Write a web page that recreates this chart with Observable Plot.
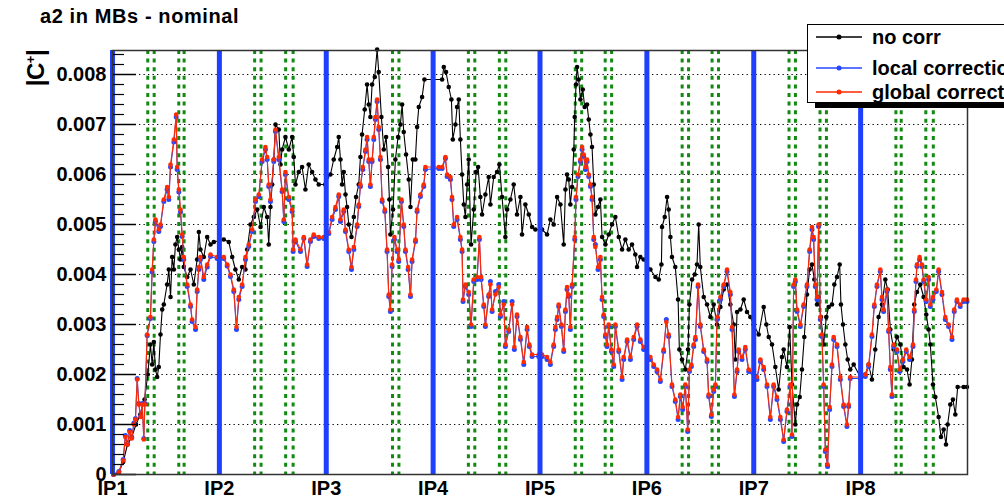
<!DOCTYPE html>
<html><head><meta charset="utf-8">
<script src="https://cdn.jsdelivr.net/npm/d3@7"></script>
<script src="https://cdn.jsdelivr.net/npm/@observablehq/plot@0.6"></script>
<style>
html,body{margin:0;padding:0;background:#fff;overflow:hidden}
#wrap{position:relative;width:1004px;height:500px;overflow:hidden;font-family:"Liberation Sans",Arial,Helvetica,sans-serif;font-weight:bold;color:#000}
#wrap svg.plot{position:absolute;left:0;top:0}
#title{position:absolute;left:40px;top:6px;font-size:20px;line-height:1;letter-spacing:0.6px;white-space:nowrap}
#ylab{position:absolute;left:36px;top:68px;transform:translate(-50%,-50%) rotate(-90deg);font-size:24px;line-height:1;white-space:nowrap;letter-spacing:-0.5px}
#ylab sup{font-size:13px;vertical-align:9px}
#legend{position:absolute;left:807px;top:24px;width:240px;height:77px;border:1px solid #000;background:#fff;box-shadow:8px 5px 0 #000}
#legend .row{position:absolute;left:0;height:24px;display:flex;align-items:center;white-space:nowrap;font-size:20px}
#legend .row svg{margin-left:8px;margin-right:10px}
</style></head>
<body><div id="wrap"></div>
<script>
// ---- data: position along the ring in units of IP spacing (IP1 = 0), |C+| in units of 1e-3 ----
const ipPos = [0, 1, 2, 3, 4, 5, 6, 7];
const ipLabels = ["IP1", "IP2", "IP3", "IP4", "IP5", "IP6", "IP7", "IP8"];
const greenLines = [0.33, 0.39, 0.62, 0.67, 1.33, 1.39, 1.62, 1.69, 2.62, 2.68, 3.33, 3.39, 3.62, 3.68,
  4.33, 4.39, 4.61, 4.67, 5.33, 5.39, 5.61, 5.67, 6.33, 6.39, 6.62, 6.68, 7.33, 7.38, 7.61, 7.68];
const yMajor = [0, 0.001, 0.002, 0.003, 0.004, 0.005, 0.006, 0.007, 0.008];
const yMinor = [0.0002, 0.0004, 0.0006, 0.0008, 0.0012, 0.0014, 0.0016, 0.0018, 0.0022, 0.0024, 0.0026, 0.0028,
  0.0032, 0.0034, 0.0036, 0.0038, 0.0042, 0.0044, 0.0046, 0.0048, 0.0052, 0.0054, 0.0056, 0.0058,
  0.0062, 0.0064, 0.0066, 0.0068, 0.0072, 0.0074, 0.0076, 0.0078, 0.0082, 0.0084];
const seriesNames = ["no corr", "local correction", "global correction"];
const seriesColors = ["#000000", "#2646ff", "#ff2a00"];

const noCorrPts = [
[0.01,0.0],[0.06,0.05],[0.10,0.25],[0.14,0.6],[0.18,0.75],[0.22,1.0],[0.26,1.2],[0.30,1.5],[0.33,2.0],[0.355,2.6],
[0.371,2.2],[0.387,2.65],[0.402,2.1],[0.418,1.95],[0.433,2.15],[0.449,2.8],[0.465,3.3],[0.48,3.4],[0.511,3.8],[0.527,4.1],
[0.543,3.55],[0.558,4.35],[0.574,4.1],[0.589,4.6],[0.605,4.75],[0.621,4.5],[0.636,4.3],[0.652,4.55],[0.667,4.15],[0.699,3.95],
[0.73,4.1],[0.761,3.8],[0.792,4.3],[0.808,4.85],[0.823,4.5],[0.854,4.35],[0.886,4.75],[0.917,4.6],[0.948,4.65],[1.041,4.7],
[1.088,4.65],[1.12,4.35],[1.15,4.1],[1.182,3.9],[1.213,4.15],[1.244,4.1],[1.26,4.5],[1.291,5.0],[1.322,5.15],[1.354,5.3],
[1.385,4.95],[1.416,5.35],[1.447,5.15],[1.462,4.6],[1.478,5.35],[1.494,5.8],[1.509,6.3],[1.525,7.0],[1.556,6.9],[1.572,6.2],
[1.587,6.5],[1.618,6.75],[1.65,6.5],[1.681,6.75],[1.696,6.35],[1.712,5.8],[1.743,6.05],[1.774,6.15],[1.805,5.7],[1.836,6.2],
[1.868,6.05],[1.899,5.9],[1.93,5.8],[1.99,5.8],
[2.008,5.95],[2.039,6.0],[2.07,6.3],[2.102,6.55],[2.117,6.75],[2.133,6.3],[2.148,5.8],[2.164,6.05],[2.18,5.6],[2.195,5.35],
[2.211,5.0],[2.236,4.75],[2.258,5.15],[2.279,5.55],[2.304,5.8],[2.32,6.35],[2.335,6.8],[2.36,7.3],[2.382,7.8],[2.398,7.4],
[2.413,7.15],[2.429,7.8],[2.454,7.95],[2.476,8.5],[2.491,8.05],[2.516,7.15],[2.538,6.5],[2.56,6.75],[2.579,6.15],[2.591,5.5],
[2.6,4.8],[2.625,5.3],[2.647,6.3],[2.672,6.75],[2.694,7.0],[2.71,7.4],[2.725,6.85],[2.747,6.4],[2.772,5.9],[2.788,5.35],
[2.81,6.3],[2.834,6.3],[2.85,6.95],[2.866,7.35],[2.897,7.55],[2.919,7.9],[3.084,7.9],[3.1,8.15],[3.121,8.05],[3.146,7.75],
[3.171,7.5],[3.184,6.7],[3.209,7.0],[3.224,7.35],[3.24,7.5],[3.255,6.7],[3.271,6.0],[3.287,5.4],[3.302,5.15],[3.318,5.8],
[3.333,6.3],[3.355,4.6],[3.38,5.3],[3.402,6.05],[3.421,6.15],[3.442,5.55],[3.458,5.2],[3.489,5.6],[3.52,5.95],[3.536,5.4],
[3.567,5.95],[3.598,6.05],[3.62,6.2],[3.645,5.55],[3.676,4.75],[3.692,5.3],[3.723,5.5],[3.754,5.8],[3.785,5.2],[3.817,5.55],
[3.832,4.8],[3.863,5.4],[3.895,5.2],[3.926,4.95],[3.957,4.9],
[4.019,4.9],[4.066,4.8],[4.097,5.1],[4.128,5.0],[4.16,5.55],[4.191,5.4],[4.222,4.6],[4.238,5.7],[4.253,6.0],[4.269,5.9],
[4.284,5.4],[4.3,5.75],[4.316,6.5],[4.325,7.15],[4.337,7.8],[4.347,8.15],[4.362,7.9],[4.378,7.5],[4.4,7.7],[4.418,7.35],
[4.44,7.4],[4.456,7.1],[4.472,6.8],[4.487,6.55],[4.503,5.8],[4.518,5.2],[4.543,5.35],[4.565,5.5],[4.581,4.75],[4.612,4.6],
[4.643,4.8],[4.674,5.0],[4.705,5.15],[4.737,4.75],[4.768,4.5],[4.799,4.7],[4.83,4.5],[4.861,4.6],[4.892,4.4],[4.908,4.15],
[4.939,4.35],[4.97,4.3],[5.033,4.1],[5.08,3.95],[5.111,3.9],[5.136,4.2],[5.142,4.95],[5.167,5.15],[5.189,5.55],[5.204,5.3],
[5.22,4.75],[5.235,4.35],[5.266,4.15],[5.292,3.5],[5.304,2.5],[5.329,2.3],[5.36,2.1],[5.385,2.5],[5.398,3.4],[5.423,3.9],
[5.448,4.0],[5.469,4.2],[5.485,5.0],[5.5,4.15],[5.532,3.55],[5.563,3.4],[5.594,3.15],[5.625,3.4],[5.656,3.0],[5.688,3.35],
[5.719,3.7],[5.75,3.8],[5.781,3.4],[5.813,3.0],[5.828,2.3],[5.844,3.25],[5.875,3.3],[5.906,3.5],[5.937,3.25],[5.968,3.15],
[5.999,3.0],[6.046,2.8],[6.093,3.35],[6.118,3.0],[6.14,2.75],[6.171,2.6],[6.202,2.15],[6.233,1.7],[6.264,2.35],[6.28,2.5],
[6.311,2.15],[6.336,2.95],[6.358,1.8],[6.389,1.0],[6.405,1.4],[6.43,1.55],[6.451,2.1],[6.473,2.75],[6.498,3.6],[6.523,4.1],
[6.545,4.2],[6.567,3.9],[6.592,3.4],[6.607,3.55],[6.629,3.15],[6.654,2.6],[6.679,3.15],[6.701,3.35],[6.732,3.4],[6.754,3.8],
[6.779,3.95],[6.804,4.2],[6.816,3.4],[6.835,3.0],[6.857,2.6],[6.879,2.3],[6.903,2.1],[6.935,2.2],[6.997,1.95],[7.044,2.0],
[7.075,2.2],[7.106,1.9],[7.137,2.5],[7.168,3.15],[7.2,3.4],[7.231,3.9],[7.253,3.7],[7.278,2.9],[7.309,2.5],[7.34,2.75],
[7.371,2.6],[7.402,2.15],[7.434,2.1],[7.458,1.8],[7.48,2.3],[7.502,3.4],[7.527,3.65],[7.558,3.8],[7.59,3.55],[7.614,3.2],
[7.636,2.9],[7.652,2.6],[7.677,1.8],[7.699,1.55],[7.73,1.15],[7.752,0.75],[7.777,0.9],[7.799,0.6],[7.814,1.0],[7.839,1.4],
[7.864,1.5],[7.886,1.2],[7.908,1.75],[7.964,1.75],[7.995,1.75]
];

const globalPts = [
[0.01,0.0],[0.06,0.05],[0.10,0.28],[0.12,0.75],[0.14,0.6],[0.16,0.85],[0.18,0.72],[0.20,1.0],[0.215,1.1],[0.231,1.9],
[0.246,1.4],[0.262,1.15],[0.278,1.4],[0.293,0.7],[0.303,1.4],[0.324,2.8],[0.355,3.15],[0.371,4.1],[0.387,4.7],[0.402,5.1],
[0.433,4.9],[0.449,5.0],[0.48,5.5],[0.511,5.75],[0.527,5.55],[0.543,6.2],[0.574,6.7],[0.596,7.2],[0.605,6.15],[0.621,5.7],
[0.636,5.3],[0.652,4.8],[0.667,4.35],[0.699,3.8],[0.73,3.4],[0.745,3.1],[0.777,2.95],[0.792,3.7],[0.808,4.15],[0.823,4.35],
[0.854,3.95],[0.886,4.2],[0.917,4.4],[0.979,4.35],[1.041,4.35],[1.073,4.2],[1.104,4.0],[1.135,3.7],[1.16,2.95],[1.182,3.55],
[1.213,3.8],[1.244,4.35],[1.275,4.6],[1.307,4.9],[1.338,5.5],[1.369,5.6],[1.4,6.3],[1.431,6.55],[1.447,6.35],[1.462,5.8],
[1.478,5.5],[1.509,6.3],[1.525,6.9],[1.556,6.35],[1.587,5.7],[1.603,5.1],[1.618,6.05],[1.65,5.55],[1.681,5.3],[1.69,4.5],
[1.712,4.7],[1.759,4.5],[1.79,4.75],[1.821,4.2],[1.852,4.7],[1.883,4.8],[1.93,4.75],[1.977,4.75],
[2.024,4.85],[2.055,5.15],[2.086,5.35],[2.117,5.6],[2.133,5.1],[2.164,5.3],[2.18,4.9],[2.211,4.5],[2.236,4.15],[2.258,4.55],
[2.289,5.0],[2.304,5.4],[2.32,5.8],[2.342,6.15],[2.367,6.5],[2.382,6.75],[2.398,6.3],[2.413,5.8],[2.429,6.3],[2.445,6.75],
[2.46,7.15],[2.476,7.5],[2.491,6.95],[2.507,6.35],[2.523,5.5],[2.548,5.3],[2.569,4.5],[2.585,3.6],[2.6,3.3],[2.616,4.2],
[2.638,4.75],[2.663,4.5],[2.678,4.3],[2.703,5.5],[2.725,5.0],[2.741,4.5],[2.766,4.15],[2.788,3.6],[2.803,4.3],[2.835,4.7],
[2.85,5.3],[2.881,5.6],[2.912,5.8],[2.928,6.15],[3.053,6.15],[3.084,6.15],[3.115,6.35],[3.131,6.0],[3.162,5.95],[3.177,5.55],
[3.193,5.0],[3.224,5.15],[3.255,4.75],[3.271,4.5],[3.28,3.5],[3.302,3.8],[3.333,3.65],[3.355,3.0],[3.38,3.9],[3.411,3.95],
[3.433,4.75],[3.449,3.95],[3.474,3.4],[3.489,3.0],[3.52,3.6],[3.536,3.8],[3.552,3.3],[3.583,3.6],[3.614,3.75],[3.63,3.2],
[3.661,3.4],[3.676,2.6],[3.707,2.9],[3.739,3.4],[3.76,2.55],[3.785,3.2],[3.817,2.75],[3.848,2.25],[3.879,2.95],[3.9,2.6],
[3.926,2.4],[3.988,2.4],
[4.019,2.4],[4.066,2.35],[4.097,2.25],[4.128,2.6],[4.144,2.95],[4.16,3.15],[4.175,3.4],[4.2,3.0],[4.222,2.5],[4.238,3.3],
[4.253,3.75],[4.269,3.6],[4.284,2.95],[4.3,3.8],[4.325,4.75],[4.337,5.55],[4.356,6.0],[4.378,6.3],[4.394,6.55],[4.409,6.4],
[4.425,6.15],[4.44,6.3],[4.456,6.0],[4.472,5.8],[4.487,5.55],[4.503,4.75],[4.518,4.55],[4.543,4.15],[4.565,4.35],[4.581,3.55],
[4.596,3.2],[4.612,2.8],[4.627,2.6],[4.643,3.0],[4.668,2.5],[4.69,2.2],[4.705,3.0],[4.737,2.5],[4.768,1.95],[4.783,2.35],
[4.815,2.7],[4.846,2.35],[4.877,2.75],[4.908,3.0],[4.939,2.7],[4.97,2.55],[5.033,2.35],[5.064,2.2],[5.095,2.1],[5.126,1.9],
[5.157,2.5],[5.182,3.05],[5.204,2.8],[5.235,1.8],[5.266,1.5],[5.292,1.15],[5.313,1.6],[5.335,1.35],[5.36,1.8],[5.382,0.9],
[5.398,2.1],[5.416,2.2],[5.438,2.6],[5.454,2.75],[5.479,3.8],[5.5,3.0],[5.532,2.5],[5.563,2.3],[5.578,1.6],[5.603,1.2],
[5.625,1.7],[5.641,1.8],[5.656,3.15],[5.688,3.55],[5.719,3.8],[5.75,4.1],[5.781,3.65],[5.797,2.95],[5.819,1.6],[5.844,2.1],
[5.859,2.5],[5.89,2.35],[5.921,2.55],[5.953,2.1],
[6.03,1.95],[6.062,2.3],[6.093,2.15],[6.124,1.8],[6.155,1.15],[6.186,1.8],[6.217,1.55],[6.249,1.15],[6.28,0.7],[6.311,1.3],
[6.342,1.8],[6.358,0.8],[6.373,3.8],[6.389,3.9],[6.405,3.3],[6.436,3.0],[6.467,3.4],[6.498,3.8],[6.523,4.5],[6.545,4.95],
[6.56,4.75],[6.576,3.8],[6.592,3.55],[6.607,5.0],[6.623,3.15],[6.638,2.8],[6.654,1.8],[6.67,0.5],[6.691,0.2],[6.71,1.35],
[6.732,2.2],[6.748,2.75],[6.779,2.6],[6.81,1.95],[6.841,1.4],[6.872,1.0],[6.888,1.4],[6.903,1.95],[6.997,1.95],[7.044,2.0],
[7.075,2.2],[7.106,2.8],[7.128,3.4],[7.153,3.8],[7.184,4.1],[7.2,3.55],[7.215,3.3],[7.246,3.7],[7.262,2.9],[7.278,2.15],
[7.293,1.6],[7.309,2.6],[7.34,2.5],[7.365,2.1],[7.396,2.3],[7.427,2.5],[7.458,2.35],[7.49,2.6],[7.502,3.3],[7.518,3.9],
[7.527,4.2],[7.552,4.35],[7.574,4.2],[7.59,3.9],[7.614,3.5],[7.636,3.95],[7.652,3.4],[7.677,3.55],[7.708,3.7],[7.73,4.1],
[7.761,3.65],[7.792,3.15],[7.823,3.0],[7.855,2.75],[7.876,3.3],[7.901,3.5],[7.932,3.4],[7.964,3.5],[7.995,3.5]
];

const localPts = [
[0.01,0.0],[0.06,0.06],[0.10,0.3],[0.12,0.78],[0.14,0.62],[0.16,0.88],[0.18,0.74],[0.20,1.03],[0.215,1.12],[0.231,1.92],
[0.246,1.42],[0.262,1.17],[0.278,1.42],[0.293,0.72],[0.303,1.42],[0.324,2.78],[0.355,3.12],[0.371,4.05],[0.387,4.66],[0.402,5.06],
[0.433,4.86],[0.449,4.96],[0.48,5.46],[0.511,5.7],[0.527,5.5],[0.543,6.15],[0.574,6.65],[0.596,7.15],[0.605,6.1],[0.621,5.65],
[0.636,5.25],[0.652,4.76],[0.667,4.3],[0.699,3.76],[0.73,3.36],[0.745,3.06],[0.777,2.9],[0.792,3.66],[0.808,4.1],[0.823,4.3],
[0.854,3.9],[0.886,4.15],[0.917,4.36],[0.979,4.32],[1.041,4.32],[1.073,4.17],[1.104,3.96],[1.135,3.66],[1.16,2.9],[1.182,3.5],
[1.213,3.76],[1.244,4.3],[1.275,4.56],[1.307,4.86],[1.338,5.46],[1.369,5.56],[1.4,6.26],[1.431,6.5],[1.447,6.3],[1.462,5.76],
[1.478,5.46],[1.509,6.26],[1.525,6.86],[1.556,6.3],[1.587,5.66],[1.603,5.06],[1.618,6.0],[1.65,5.5],[1.681,5.26],[1.69,4.46],
[1.712,4.66],[1.759,4.46],[1.79,4.72],[1.821,4.16],[1.852,4.66],[1.883,4.76],[1.93,4.72],[1.977,4.72],
[2.024,4.82],[2.055,5.1],[2.086,5.3],[2.117,5.56],[2.133,5.06],[2.164,5.26],[2.18,4.86],[2.211,4.46],[2.236,4.1],[2.258,4.5],
[2.289,4.96],[2.304,5.36],[2.32,5.76],[2.342,6.1],[2.367,6.46],[2.382,6.7],[2.398,6.26],[2.413,5.76],[2.429,6.26],[2.445,6.7],
[2.46,7.1],[2.476,7.46],[2.491,6.9],[2.507,6.3],[2.523,5.46],[2.548,5.26],[2.569,4.46],[2.585,3.56],[2.6,3.26],[2.616,4.16],
[2.638,4.7],[2.663,4.46],[2.678,4.26],[2.703,5.46],[2.725,4.96],[2.741,4.46],[2.766,4.1],[2.788,3.56],[2.803,4.26],[2.835,4.66],
[2.85,5.26],[2.881,5.56],[2.912,5.76],[2.928,6.1],[3.053,6.12],[3.084,6.12],[3.115,6.32],[3.131,5.96],[3.162,5.9],[3.177,5.5],
[3.193,4.96],[3.224,5.1],[3.255,4.7],[3.271,4.46],[3.28,3.46],[3.302,3.76],[3.333,3.6],[3.355,2.96],[3.38,3.86],[3.411,3.9],
[3.433,4.7],[3.449,3.9],[3.474,3.36],[3.489,2.96],[3.52,3.56],[3.536,3.86],[3.552,3.26],[3.583,3.66],[3.614,3.8],[3.63,3.16],
[3.661,3.46],[3.676,2.56],[3.707,2.86],[3.739,3.46],[3.76,2.5],[3.785,3.16],[3.817,2.7],[3.848,2.2],[3.879,2.9],[3.9,2.56],
[3.926,2.36],[3.988,2.36],
[4.019,2.36],[4.066,2.3],[4.097,2.2],[4.128,2.56],[4.144,2.9],[4.16,3.1],[4.175,3.36],[4.2,2.96],[4.222,2.46],[4.238,3.26],
[4.253,3.7],[4.269,3.56],[4.284,2.9],[4.3,3.76],[4.325,4.7],[4.337,5.5],[4.356,5.96],[4.378,6.26],[4.394,6.5],[4.409,6.36],
[4.425,6.1],[4.44,6.26],[4.456,5.96],[4.472,5.76],[4.487,5.5],[4.503,4.7],[4.518,4.6],[4.543,4.1],[4.565,4.3],[4.581,3.5],
[4.596,3.16],[4.612,2.76],[4.627,2.56],[4.643,2.96],[4.668,2.46],[4.69,2.16],[4.705,2.96],[4.737,2.46],[4.768,1.9],[4.783,2.3],
[4.815,2.66],[4.846,2.3],[4.877,2.7],[4.908,2.96],[4.939,2.66],[4.97,2.5],[5.033,2.3],[5.064,2.16],[5.095,2.06],[5.126,1.86],
[5.157,2.46],[5.182,3.1],[5.204,2.76],[5.235,1.76],[5.266,1.46],[5.292,1.1],[5.313,1.56],[5.335,1.3],[5.36,1.76],[5.382,0.86],
[5.398,2.06],[5.416,2.16],[5.438,2.56],[5.454,2.7],[5.479,3.76],[5.5,2.96],[5.532,2.46],[5.563,2.26],[5.578,1.56],[5.603,1.16],
[5.625,1.66],[5.641,1.76],[5.656,3.1],[5.688,3.5],[5.719,3.76],[5.75,4.06],[5.781,3.6],[5.797,2.9],[5.819,1.56],[5.844,2.06],
[5.859,2.46],[5.89,2.3],[5.921,2.5],[5.953,2.06],
[6.03,1.9],[6.062,2.26],[6.093,2.1],[6.124,1.76],[6.155,1.1],[6.186,1.76],[6.217,1.5],[6.249,1.1],[6.28,0.66],[6.311,1.26],
[6.342,1.76],[6.358,0.76],[6.373,3.76],[6.389,3.86],[6.405,3.26],[6.436,2.96],[6.467,3.36],[6.498,3.76],[6.523,4.46],[6.545,4.9],
[6.56,4.7],[6.576,3.76],[6.592,3.5],[6.607,4.96],[6.623,3.1],[6.638,2.76],[6.654,1.76],[6.67,0.46],[6.691,0.16],[6.71,1.3],
[6.732,2.16],[6.748,2.7],[6.779,2.56],[6.81,1.9],[6.841,1.36],[6.872,0.96],[6.888,1.36],[6.903,1.92],[6.997,1.92],[7.044,1.96],
[7.075,2.16],[7.106,2.76],[7.128,3.36],[7.153,3.76],[7.184,4.06],[7.2,3.5],[7.215,3.26],[7.246,3.66],[7.262,2.86],[7.278,2.1],
[7.293,1.56],[7.309,2.56],[7.34,2.46],[7.365,2.06],[7.396,2.26],[7.427,2.46],[7.458,2.3],[7.49,2.56],[7.502,3.26],[7.518,3.86],
[7.527,4.16],[7.552,4.3],[7.574,4.16],[7.59,3.86],[7.614,3.46],[7.636,3.9],[7.652,3.36],[7.677,3.5],[7.708,3.66],[7.73,4.06],
[7.761,3.6],[7.792,3.1],[7.823,2.96],[7.855,2.7],[7.876,3.26],[7.901,3.46],[7.932,3.36],[7.964,3.46],[7.995,3.46]
];

// ---- build tables ----
const toRows = pts => pts.map(([s, v]) => ({s, v: v * 1e-3}));
const noCorr = toRows(noCorrPts);
const local = toRows(localPts);
const global = toRows(globalPts);

const FONT = '"Liberation Sans", Arial, Helvetica, sans-serif';
const frameW = 1004 - 112 - 37;

const chart = Plot.plot({
  width: 1004,
  height: 500,
  marginLeft: 112,
  marginRight: 37,
  marginTop: 50,
  marginBottom: 26,
  style: {fontFamily: FONT, fontSize: "20px", fontWeight: "bold", background: "transparent", overflow: "visible", color: "#000"},
  x: {domain: [0, 8]},
  y: {domain: [0, 0.00848]},
  marks: [
    Plot.ruleY(yMajor.slice(1), {y: d => d, stroke: "#000", strokeWidth: 1, strokeDasharray: "1.3,3.2"}),
    Plot.ruleX(greenLines, {x: d => d, stroke: "#128a12", strokeWidth: 3, strokeDasharray: "4,4.6"}),
    Plot.line(noCorr, {x: "s", y: "v", stroke: seriesColors[0], strokeWidth: 1.1}),
    Plot.dot(noCorr, {x: "s", y: "v", fill: seriesColors[0], r: 2.3}),
    Plot.line(local, {x: "s", y: "v", stroke: seriesColors[1], strokeWidth: 1.1}),
    Plot.dot(local, {x: "s", y: "v", fill: seriesColors[1], r: 2.5}),
    Plot.line(global, {x: "s", y: "v", stroke: seriesColors[2], strokeWidth: 1.1}),
    Plot.dot(global, {x: "s", y: "v", fill: seriesColors[2], r: 2.3}),
    Plot.ruleX(ipPos, {x: d => d, stroke: "#1f3fff", strokeWidth: 5}),
    Plot.ruleY(yMajor, {y: d => d, insetRight: frameW - 24, stroke: "#000", strokeWidth: 1.5}),
    Plot.ruleY(yMinor, {y: d => d, insetRight: frameW - 12, stroke: "#000", strokeWidth: 1.2}),
    Plot.frame({stroke: "#333", strokeWidth: 1.5}),
    Plot.axisY(yMajor, {label: null, tickSize: 0, tickPadding: 6, fontSize: 20, fontWeight: "bold",
      tickFormat: d => d === 0 ? "0" : d.toFixed(3)}),
    Plot.axisX(ipPos, {label: null, tickSize: 0, tickPadding: 6, fontSize: 20, fontWeight: "bold",
      tickFormat: d => ipLabels[d]})
  ]
});
chart.classList.add("plot");

const wrap = document.getElementById("wrap");
wrap.appendChild(chart);

const title = document.createElement("div");
title.id = "title";
title.textContent = "a2 in MBs - nominal";
wrap.appendChild(title);

const ylab = document.createElement("div");
ylab.id = "ylab";
ylab.innerHTML = "|C<sup>+</sup>|";
wrap.appendChild(ylab);

const legend = document.createElement("div");
legend.id = "legend";
const rowTops = [0, 31, 55];
seriesNames.forEach((name, i) => {
  const row = document.createElement("div");
  row.className = "row";
  row.style.top = rowTops[i] + "px";
  const ns = "http://www.w3.org/2000/svg";
  const svg = document.createElementNS(ns, "svg");
  svg.setAttribute("width", "46");
  svg.setAttribute("height", "10");
  const ln = document.createElementNS(ns, "line");
  ln.setAttribute("x1", "0"); ln.setAttribute("x2", "46");
  ln.setAttribute("y1", "5"); ln.setAttribute("y2", "5");
  ln.setAttribute("stroke", seriesColors[i]); ln.setAttribute("stroke-width", "1.5");
  const c = document.createElementNS(ns, "circle");
  c.setAttribute("cx", "23"); c.setAttribute("cy", "5"); c.setAttribute("r", "2.5");
  c.setAttribute("fill", seriesColors[i]);
  svg.appendChild(ln); svg.appendChild(c);
  const span = document.createElement("span");
  span.textContent = name;
  row.appendChild(svg); row.appendChild(span);
  legend.appendChild(row);
});
wrap.appendChild(legend);
</script>
</body></html>
